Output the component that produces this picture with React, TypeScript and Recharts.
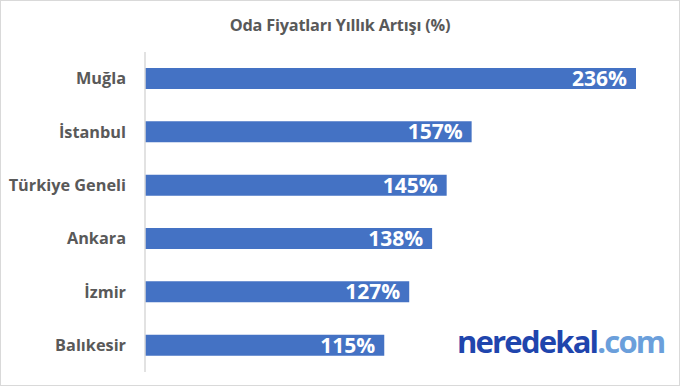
import React from "react";
import { BarChart, Bar, XAxis, YAxis, LabelList } from "recharts";

const categories = ["Muğla", "İstanbul", "Türkiye Geneli", "Ankara", "İzmir", "Balıkesir"];
const values = [236, 157, 145, 138, 127, 115];
const titleText = "Oda Fiyatları Yıllık Artışı (%)";

const data = categories.map((name, i) => ({ name, value: values[i] }));

const FONT = "'Open Sans', Lato, 'DejaVu Sans', sans-serif";

export default function App() {
  return (
    <div
      style={{
        position: "absolute",
        left: 0,
        top: 0,
        width: 680,
        height: 386,
        boxSizing: "border-box",
        border: "1px solid #d9d9d9",
        background: "#fff",
        fontFamily: FONT,
      }}
    >
      <div
        style={{
          position: "absolute",
          left: 0,
          top: 11,
          width: 678,
          textAlign: "center",
          fontSize: 16.3,
          lineHeight: "26px",
          fontWeight: 700,
          color: "#595959",
          letterSpacing: -0.2,
        }}
      >
        {titleText}
      </div>
      <div style={{ position: "absolute", left: -1, top: -1 }}>
        <BarChart
          width={680}
          height={386}
          data={data}
          layout="vertical"
          margin={{ top: 52, right: 44, bottom: 14, left: 0 }}
          barSize={21}
        >
          <XAxis type="number" domain={[0, 236]} hide />
          <YAxis
            type="category"
            dataKey="name"
            width={145}
            tickLine={false}
            tickSize={0}
            tickMargin={19}
            axisLine={{ stroke: "#d9d9d9", strokeWidth: 1.5 }}
            tick={{ fill: "#595959", fontSize: 16.3, fontWeight: 700, fontFamily: FONT }}
          />
          <Bar dataKey="value" fill="#4472C4" isAnimationActive={false}>
            <LabelList
              dataKey="value"
              position="insideRight"
              offset={9}
              formatter={(v: number) => `${v}%`}
              style={{ fill: "#ffffff", fontSize: 21, fontWeight: 700, fontFamily: FONT }}
            />
          </Bar>
        </BarChart>
      </div>
      <div
        style={{
          position: "absolute",
          left: 456,
          top: 322,
          fontSize: 31,
          fontWeight: 700,
          fontFamily: "'Open Sans', Lato, sans-serif",
          letterSpacing: -1.8,
          lineHeight: "36px",
          whiteSpace: "nowrap",
        }}
      >
        <span style={{ color: "#1f45ad" }}>neredekal</span>
        <span style={{ color: "#6b9fdb" }}>.com</span>
      </div>
    </div>
  );
}
